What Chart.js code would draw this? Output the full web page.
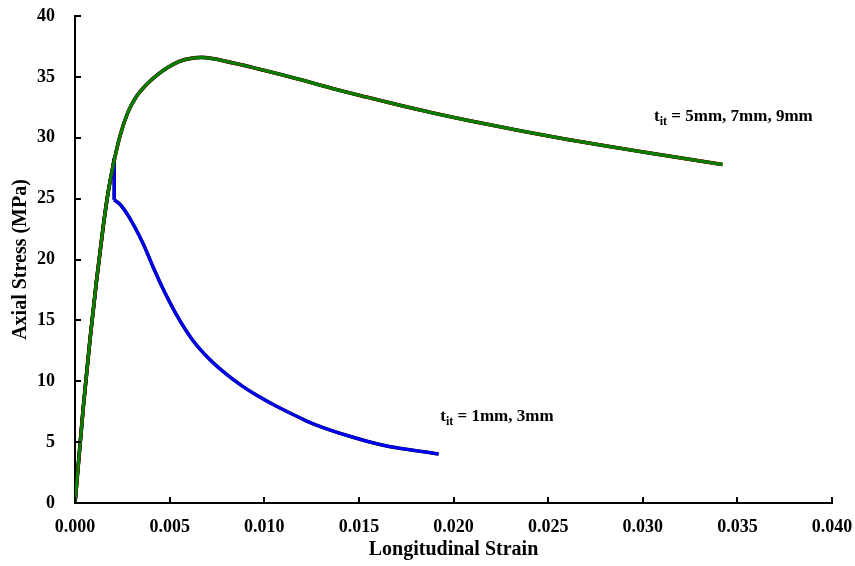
<!DOCTYPE html>
<html>
<head>
<meta charset="utf-8">
<script src="https://cdn.jsdelivr.net/npm/chart.js@4.4.1/dist/chart.umd.min.js"></script>
<style>
  html, body { margin: 0; padding: 0; background: #fff; }
  #wrap { width: 855px; height: 566px; }
</style>
</head>
<body>
<div id="wrap"><canvas id="chart"></canvas></div>
<script>
// thick interface 5mm, 7mm, 9mm (curves coincide)
const strainThick = [0, 0.00009, 0.00044, 0.00079, 0.00114, 0.00149, 0.00175, 0.0020, 0.00237, 0.0028,
  0.00325, 0.00377, 0.0043, 0.00491, 0.00553, 0.00613, 0.0067, 0.00833, 0.01009, 0.01184,
  0.0136, 0.01535, 0.01711, 0.01886, 0.02132, 0.0236, 0.02588, 0.02816, 0.03044, 0.03421];
const stressThick = [0, 1.6, 7.9, 13.4, 18.3, 22.7, 25.5, 27.6, 30.1, 32.1,
  33.4, 34.35, 35.1, 35.78, 36.28, 36.52, 36.6, 36.15, 35.5, 34.8,
  34.05, 33.36, 32.69, 32.06, 31.25, 30.55, 29.9, 29.3, 28.73, 27.8];

// thin interface 1mm, 3mm (curves coincide): rising branch, sudden drop, softening branch
const strainThinRise = [0, 0.00009, 0.00044, 0.00079, 0.00114, 0.00149, 0.00175, 0.0020, 0.00207];
const stressThinRise = [0, 1.6, 7.9, 13.4, 18.3, 22.7, 25.5, 27.6, 28.3];
const strainThinDrop = [0.00207, 0.00207];
const stressThinDrop = [28.3, 24.9];
const strainThinSoft = [0.00207, 0.0024, 0.00289, 0.00359, 0.00412, 0.00465, 0.00535, 0.00623, 0.00711, 0.00798,
  0.00886, 0.00974, 0.01062, 0.01202, 0.01272, 0.01447, 0.01623, 0.01921];
const stressThinSoft = [24.9, 24.5, 23.4, 21.33, 19.41, 17.6, 15.5, 13.35, 11.8, 10.6,
  9.58, 8.72, 7.97, 6.9, 6.42, 5.5, 4.76, 4.02];

const xTicks = [0, 0.005, 0.010, 0.015, 0.020, 0.025, 0.030, 0.035, 0.040];
const yTicks = [0, 5, 10, 15, 20, 25, 30, 35, 40];

const toPoints = (xs, ys) => xs.map((x, i) => ({ x: x, y: ys[i] }));

const serif = '"Liberation Serif", "Times New Roman", serif';

// inward tick marks and the two curve labels
const extras = {
  id: 'extras',
  afterDraw(chart) {
    const ctx = chart.ctx;
    const xs = chart.scales.x, ys = chart.scales.y;
    ctx.save();
    ctx.strokeStyle = '#000';
    ctx.lineWidth = 2;
    ctx.beginPath();
    xTicks.forEach(v => {
      const px = Math.round(xs.getPixelForValue(v));
      ctx.moveTo(px, ys.bottom);
      ctx.lineTo(px, ys.bottom - 6);
    });
    yTicks.forEach(v => {
      const py = Math.round(ys.getPixelForValue(v));
      ctx.moveTo(xs.left, py);
      ctx.lineTo(xs.left + 6, py);
    });
    ctx.stroke();

    const label = (x, y, rest) => {
      ctx.fillStyle = '#000';
      ctx.textBaseline = 'alphabetic';
      ctx.font = 'bold 17px ' + serif;
      ctx.fillText('t', x, y);
      let w = ctx.measureText('t').width;
      ctx.font = 'bold 12px ' + serif;
      ctx.fillText('it', x + w, y + 4);
      w += ctx.measureText('it').width;
      ctx.font = 'bold 17px ' + serif;
      ctx.fillText(rest, x + w, y);
    };
    label(xs.getPixelForValue(0.0306), ys.getPixelForValue(31.4), ' = 5mm, 7mm, 9mm');
    label(xs.getPixelForValue(0.0193), ys.getPixelForValue(6.7), ' = 1mm, 3mm');
    ctx.restore();
  }
};

const line = (label, xs, ys, color, width, mode) => ({
  label: label,
  data: toPoints(xs, ys),
  borderColor: color,
  borderWidth: width,
  showLine: true,
  pointRadius: 0,
  fill: false,
  cubicInterpolationMode: mode || 'monotone',
});

new Chart(document.getElementById('chart'), {
  type: 'scatter',
  data: {
    datasets: [
      line('9mm', strainThick, stressThick, '#008000', 3),
      line('7mm', strainThick, stressThick, '#a00000', 3.4),
      line('5mm', strainThick, stressThick, '#000000', 3.6),
      line('3mm', strainThinRise, stressThinRise, '#0000ff', 3),
      line('3mm drop', strainThinDrop, stressThinDrop, '#0000ff', 3, 'default'),
      line('3mm soft', strainThinSoft, stressThinSoft, '#0000ff', 3),
      line('1mm', strainThinRise, stressThinRise, '#000000', 3.5),
      line('1mm drop', strainThinDrop, stressThinDrop, '#000000', 3.5, 'default'),
      line('1mm soft', strainThinSoft, stressThinSoft, '#000000', 3.5),
    ],
  },
  options: {
    responsive: true,
    maintainAspectRatio: false,
    animation: false,
    events: [],
    layout: { padding: { top: 16, right: 23, left: 0, bottom: 0 } },
    plugins: { legend: { display: false }, tooltip: { enabled: false } },
    scales: {
      x: {
        type: 'linear',
        min: 0,
        max: 0.04,
        afterBuildTicks: s => { s.ticks = xTicks.map(v => ({ value: v })); },
        afterFit: s => { s.height = 63; s.paddingLeft = 0; s.paddingRight = 0; },
        grid: { display: false },
        border: { display: true, color: '#000', width: 2 },
        ticks: {
          color: '#000',
          padding: 6,
          font: { family: serif, size: 18, weight: 'bold' },
          callback: v => v.toFixed(3),
          maxRotation: 0,
        },
        title: {
          display: true,
          text: 'Longitudinal Strain',
          color: '#000',
          font: { family: serif, size: 20, weight: 'bold' },
          padding: { top: 0, bottom: 4 },
        },
      },
      y: {
        type: 'linear',
        min: 0,
        max: 40,
        afterBuildTicks: s => { s.ticks = yTicks.map(v => ({ value: v })); },
        afterFit: s => { s.width = 75; s.paddingTop = 0; s.paddingBottom = 0; },
        grid: { display: false },
        border: { display: true, color: '#000', width: 2 },
        ticks: {
          color: '#000',
          padding: 12,
          font: { family: serif, size: 18, weight: 'bold' },
        },
        title: {
          display: true,
          text: 'Axial Stress (MPa)',
          color: '#000',
          font: { family: serif, size: 20, weight: 'bold' },
          padding: { top: 9, bottom: 0 },
        },
      },
    },
  },
  plugins: [extras],
});
</script>
</body>
</html>
